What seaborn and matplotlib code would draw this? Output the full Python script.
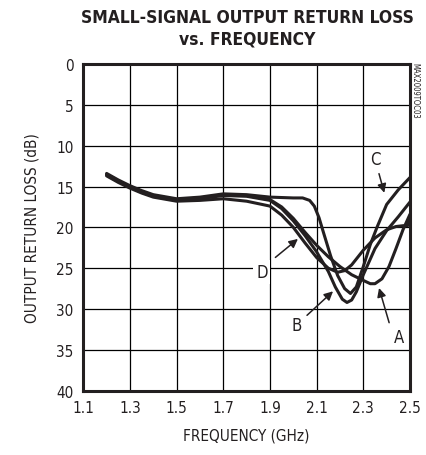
import matplotlib
matplotlib.use("Agg")
import matplotlib.pyplot as plt
import seaborn as sns
import pandas as pd

# ---- data ----
freq_A = [1.20, 1.25, 1.30, 1.35, 1.40, 1.50, 1.60, 1.70, 1.80, 1.90, 1.95, 2.00, 2.05, 2.10, 2.15, 2.20, 2.25, 2.30, 2.33, 2.35, 2.38, 2.41, 2.44, 2.47, 2.50]
loss_A = [13.5, 14.3, 15.0, 15.6, 16.1, 16.6, 16.4, 16.0, 16.1, 16.6, 17.5, 18.9, 20.6, 22.2, 23.6, 24.8, 25.8, 26.5, 26.9, 26.9, 26.3, 24.8, 22.6, 20.3, 18.4]

freq_B = [1.20, 1.25, 1.30, 1.35, 1.40, 1.50, 1.60, 1.70, 1.80, 1.90, 1.95, 2.00, 2.05, 2.10, 2.15, 2.18, 2.21, 2.23, 2.25, 2.27, 2.30, 2.35, 2.40, 2.45, 2.50]
loss_B = [13.6, 14.4, 15.1, 15.7, 16.2, 16.7, 16.5, 16.1, 16.2, 16.7, 17.7, 19.2, 21.0, 23.0, 25.4, 27.3, 28.8, 29.2, 28.9, 27.9, 25.8, 22.6, 20.4, 18.7, 16.9]

freq_C = [1.20, 1.25, 1.30, 1.35, 1.40, 1.50, 1.60, 1.70, 1.80, 1.90, 2.00, 2.04, 2.07, 2.09, 2.11, 2.13, 2.16, 2.19, 2.22, 2.245, 2.27, 2.30, 2.33, 2.36, 2.40, 2.45, 2.50]
loss_C = [13.4, 14.2, 14.9, 15.5, 16.0, 16.5, 16.3, 15.9, 16.0, 16.3, 16.4, 16.4, 16.7, 17.4, 18.8, 20.7, 23.5, 25.9, 27.5, 28.1, 27.3, 24.8, 22.1, 19.9, 17.2, 15.4, 13.9]

freq_D = [1.20, 1.25, 1.30, 1.35, 1.40, 1.50, 1.60, 1.70, 1.80, 1.90, 1.95, 2.00, 2.05, 2.10, 2.15, 2.19, 2.22, 2.25, 2.30, 2.35, 2.40, 2.44, 2.47, 2.49, 2.50]
loss_D = [13.7, 14.5, 15.2, 15.8, 16.3, 16.8, 16.7, 16.5, 16.8, 17.4, 18.5, 20.0, 21.9, 23.7, 25.0, 25.5, 25.3, 24.6, 22.8, 21.3, 20.3, 19.9, 19.8, 19.8, 18.6]

x_ticks = [1.1, 1.3, 1.5, 1.7, 1.9, 2.1, 2.3, 2.5]
y_ticks = [0, 5, 10, 15, 20, 25, 30, 35, 40]

title = "SMALL-SIGNAL OUTPUT RETURN LOSS\nvs. FREQUENCY"
x_label = "FREQUENCY (GHz)"
y_label = "OUTPUT RETURN LOSS (dB)"

# ---- build table ----
frames = []
for name, f, l in [("A", freq_A, loss_A), ("B", freq_B, loss_B),
                   ("C", freq_C, loss_C), ("D", freq_D, loss_D)]:
    frames.append(pd.DataFrame({"freq": f, "loss": l, "curve": name}))
df = pd.concat(frames, ignore_index=True)

sns.set_style("white")
plt.rcParams["font.family"] = ["DejaVu Sans"]
plt.rcParams["font.stretch"] = "condensed"

INK = "#231f20"

fig = plt.figure(figsize=(4.26, 4.56), dpi=100)
ax = fig.add_axes([0.1955, 0.141, 0.7669, 0.7165])

sns.lineplot(data=df, x="freq", y="loss", hue="curve",
             palette=[INK] * 4, linewidth=2.2, legend=False, ax=ax,
             estimator=None, sort=True)
for ln in ax.get_lines():
    ln.set_solid_joinstyle("round")
    ln.set_solid_capstyle("round")

ax.set_xlim(1.1, 2.5)
ax.set_ylim(40, 0)
ax.set_xticks(x_ticks)
ax.set_xticklabels([f"{v:.1f}" for v in x_ticks])
ax.set_yticks(y_ticks)
ax.set_yticklabels([str(v) for v in y_ticks])
ax.grid(True, color="black", linewidth=0.9)
ax.tick_params(axis="both", length=0, labelsize=11, pad=7, colors=INK)
for s in ax.spines.values():
    s.set_linewidth(2.2)
    s.set_color(INK)

ax.set_xlabel(x_label, fontsize=11, labelpad=9, color=INK)
ax.set_ylabel(y_label, fontsize=11, labelpad=12, color=INK)

fig.text(0.58, 0.937, title, ha="center", va="center", fontsize=12.5,
         fontweight="bold", color=INK, linespacing=1.2)

fig.text(0.975, 0.862, "MAX2009TOC03", rotation=-90, ha="center", va="top",
         fontsize=5.5, color=INK)

arrow_kw = dict(arrowstyle="-|>", color=INK, lw=1.1, mutation_scale=13)
lab_kw = dict(fontsize=12, color=INK, ha="center", va="center")

ax.annotate("", xy=(2.364, 27.1), xytext=(2.414, 32.0), arrowprops=arrow_kw)
ax.text(2.454, 33.4, "A", **lab_kw)
ax.annotate("", xy=(2.179, 27.6), xytext=(2.05, 31.0), arrowprops=arrow_kw)
ax.text(2.015, 32.0, "B", **lab_kw)
ax.annotate("", xy=(2.393, 16.1), xytext=(2.364, 13.1), arrowprops=arrow_kw)
ax.text(2.35, 11.6, "C", **lab_kw)
ax.annotate("", xy=(2.029, 21.2), xytext=(1.914, 23.9), arrowprops=arrow_kw)
ax.text(1.865, 25.5, "D", bbox=dict(facecolor="white", edgecolor="none", pad=2), **lab_kw)

fig.savefig("out.png", dpi=100)
